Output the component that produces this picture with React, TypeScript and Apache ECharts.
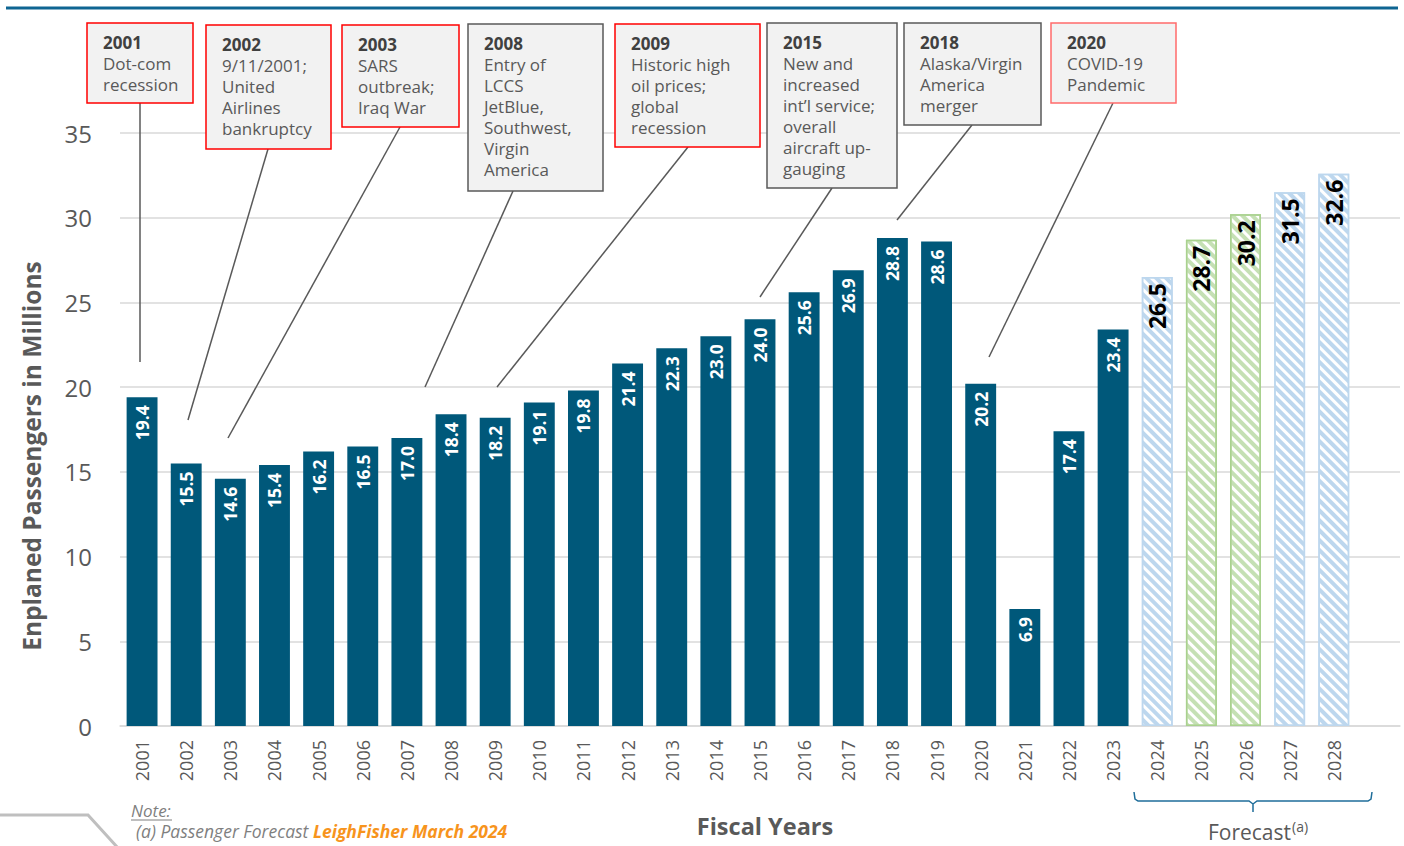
import React, { useEffect, useRef } from "react";
import * as echarts from "echarts";

// ---------- DATA ----------
const years = [
  "2001", "2002", "2003", "2004", "2005", "2006", "2007", "2008", "2009", "2010",
  "2011", "2012", "2013", "2014", "2015", "2016", "2017", "2018", "2019", "2020",
  "2021", "2022", "2023", "2024", "2025", "2026", "2027", "2028",
];
const passengers = [
  19.4, 15.5, 14.6, 15.4, 16.2, 16.5, 17.0, 18.4, 18.2, 19.1,
  19.8, 21.4, 22.3, 23.0, 24.0, 25.6, 26.9, 28.8, 28.6, 20.2,
  6.9, 17.4, 23.4, 26.5, 28.7, 30.2, 31.5, 32.6,
];
const forecastYears = ["2024", "2025", "2026", "2027", "2028"];
const greenForecastYears = ["2025", "2026"];
const yMin = 0;
const yMax = 35;
const yInterval = 5;

const eventYears = ["2001", "2002", "2003", "2008", "2009", "2015", "2018", "2020"];
const eventTexts = [
  ["Dot-com", "recession"],
  ["9/11/2001;", "United", "Airlines", "bankruptcy"],
  ["SARS", "outbreak;", "Iraq War"],
  ["Entry of", "LCCS", "JetBlue,", "Southwest,", "Virgin", "America"],
  ["Historic high", "oil prices;", "global", "recession"],
  ["New and", "increased", "int\u2019l service;", "overall", "aircraft up-", "gauging"],
  ["Alaska/Virgin", "America", "merger"],
  ["COVID-19", "Pandemic"],
];
const noteLabel = "Note:";
const noteText = "(a) Passenger Forecast ";
const noteSource = "LeighFisher March 2024";

// ---------- LAYOUT (positions / styles) ----------
// box: [x, y, w, h], border colour, leader [x1, y1, x2, y2]
const eventLayout = [
  { box: [87, 23, 106, 80], border: "#ff0000", leader: [140, 103, 140, 362] },
  { box: [206, 25, 125, 124], border: "#ff0000", leader: [268, 149, 188, 420] },
  { box: [342, 25, 117, 102], border: "#ff0000", leader: [400, 127, 228, 438] },
  { box: [468, 24, 135, 167], border: "#595959", leader: [513, 191, 425, 387] },
  { box: [615, 24, 145, 123], border: "#ff0000", leader: [688, 147, 497, 387] },
  { box: [767, 23, 130, 165], border: "#595959", leader: [832, 188, 760, 297] },
  { box: [904, 23, 137, 102], border: "#595959", leader: [972, 125, 897, 220] },
  { box: [1051, 23, 125, 80], border: "#ff6b6b", leader: [1113, 103, 989, 357] },
];

const FONT = "'Open Sans', 'Noto Sans', sans-serif";
const BAR = "#00587a";

export default function App() {
  const ref = useRef<HTMLDivElement>(null);

  useEffect(() => {
    document.body.style.margin = "0";
    if (!ref.current) return;
    const chart = echarts.init(ref.current, undefined, { renderer: "svg" });

    const stripe = (c: string) => ({
      symbol: "rect",
      symbolSize: 1,
      dashArrayX: [1, 0],
      dashArrayY: [3.5, 3],
      rotation: Math.PI / 4,
      color: c,
      backgroundColor: "#ffffff",
    });

    const seriesData = passengers.map((v, i) => {
      const y = years[i];
      const isF = forecastYears.includes(y);
      const isG = greenForecastYears.includes(y);
      if (!isF) {
        return { value: v, itemStyle: { color: BAR } };
      }
      const stroke = isG ? "#a9d18e" : "#bdd7ee";
      const fill = isG ? "#c5e0b4" : "#bdd7ee";
      return {
        value: v,
        itemStyle: {
          color: "#ffffff",
          borderColor: stroke,
          borderWidth: 1.5,
          decal: stripe(fill),
        },
        label: { color: "#000000", fontSize: 23, distance: 6 },
      };
    });

    const graphics: any[] = [];
    // top rule
    graphics.push({
      type: "line",
      shape: { x1: 6, y1: 8, x2: 1398, y2: 8 },
      style: { stroke: "#0e6592", lineWidth: 3 },
    });
    // bottom-left decoration
    graphics.push({
      type: "polyline",
      shape: { points: [[0, 815], [88, 815], [118, 848]] },
      style: { stroke: "#bfbfbf", lineWidth: 3, fill: null },
    });

    eventYears.forEach((yr, i) => {
      const L = eventLayout[i];
      const [bx, by, bw, bh] = L.box;
      const [x1, y1, x2, y2] = L.leader;
      graphics.push({
        type: "line",
        shape: { x1, y1, x2, y2 },
        style: { stroke: "#595959", lineWidth: 1.5 },
        z: 5,
      });
      graphics.push({
        type: "rect",
        shape: { x: bx, y: by, width: bw, height: bh },
        style: { fill: "#f2f2f2", stroke: L.border, lineWidth: 1.5 },
        z: 6,
      });
      const rich = "{y|" + yr + "}\n" + eventTexts[i].map((t) => "{b|" + t + "}").join("\n");
      graphics.push({
        type: "text",
        x: bx + 16,
        y: by + 9,
        z: 7,
        style: {
          text: rich,
          fontFamily: FONT,
          fontSize: 17,
          lineHeight: 21,
          fill: "#595959",
          align: "left",
          verticalAlign: "top",
          rich: {
            y: { fontWeight: "bold", fontSize: 17, lineHeight: 21, fill: "#404040", fontFamily: FONT },
            b: { fontSize: 17, lineHeight: 21, fill: "#595959", fontFamily: FONT },
          },
        },
      });
    });

    // axis titles
    graphics.push({
      type: "text",
      x: 31,
      y: 456,
      rotation: Math.PI / 2,
      style: {
        text: "Enplaned Passengers in Millions",
        fontFamily: FONT,
        fontSize: 24.5,
        fontWeight: "bold",
        fill: "#595959",
        align: "center",
        verticalAlign: "middle",
      },
    });
    graphics.push({
      type: "text",
      x: 765,
      y: 826,
      style: {
        text: "Fiscal Years",
        fontFamily: FONT,
        fontSize: 23.5,
        fontWeight: "bold",
        fill: "#595959",
        align: "center",
        verticalAlign: "middle",
      },
    });

    // forecast bracket
    graphics.push({
      type: "polyline",
      shape: {
        points: [
          [1134, 792], [1135, 799], [1138, 801], [1249, 801], [1253, 804],
          [1253, 812], [1253, 804], [1257, 801], [1368, 801], [1371, 799], [1372, 792],
        ],
      },
      style: { stroke: "#1f6e9a", lineWidth: 1.5, fill: null },
    });
    graphics.push({
      type: "text",
      x: 1291,
      y: 832,
      style: {
        text: "Forecast",
        fontFamily: FONT,
        fontSize: 21,
        lineHeight: 22,
        fill: "#595959",
        align: "right",
        verticalAlign: "middle",
      },
    });
    graphics.push({
      type: "text",
      x: 1292,
      y: 826,
      style: {
        text: "(a)",
        fontFamily: FONT,
        fontSize: 14,
        fill: "#595959",
        align: "left",
        verticalAlign: "middle",
      },
    });

    // note
    graphics.push({
      type: "text",
      x: 131,
      y: 810,
      style: {
        text: noteLabel,
        fontFamily: FONT,
        fontSize: 17,
        fontStyle: "italic",
        fill: "#7f7f7f",
        align: "left",
        verticalAlign: "middle",
      },
    });
    graphics.push({
      type: "line",
      shape: { x1: 131, y1: 820, x2: 172, y2: 820 },
      style: { stroke: "#7f7f7f", lineWidth: 1 },
    });
    graphics.push({
      type: "text",
      x: 136,
      y: 831,
      style: {
        text: "{a|" + noteText + "}{b|" + noteSource + "}",
        fontFamily: FONT,
        fontSize: 17.5,
        align: "left",
        verticalAlign: "middle",
        rich: {
          a: { fontFamily: FONT, fontSize: 17.5, fontStyle: "italic", fill: "#7f7f7f" },
          b: { fontFamily: FONT, fontSize: 17.5, fontStyle: "italic", fontWeight: "bold", fill: "#f7941d" },
        },
      },
    });

    chart.setOption({
      animation: false,
      textStyle: { fontFamily: FONT },
      grid: { left: 120, right: 4, top: 133, bottom: 120, containLabel: false },
      xAxis: {
        type: "category",
        data: [...years, ""],
        axisLine: { lineStyle: { color: "#d9d9d9", width: 1.5 } },
        axisTick: { show: false },
        axisLabel: {
          rotate: 90,
          fontSize: 18,
          color: "#595959",
          margin: 14,
          interval: 0,
          fontFamily: FONT,
        },
      },
      yAxis: {
        type: "value",
        min: yMin,
        max: yMax,
        interval: yInterval,
        axisLine: { show: false },
        axisTick: { show: false },
        splitLine: { lineStyle: { color: "#d9d9d9", width: 1.5 } },
        axisLabel: { fontSize: 24, color: "#595959", margin: 28, fontFamily: FONT },
      },
      series: [
        {
          type: "bar",
          data: seriesData,
          barWidth: "70%",
          label: {
            show: true,
            position: "insideTop",
            rotate: 90,
            align: "right",
            verticalAlign: "middle",
            distance: 8,
            color: "#ffffff",
            fontWeight: "bold",
            fontSize: 17.5,
            fontFamily: FONT,
            formatter: (p: any) => Number(p.value).toFixed(1),
          },
        },
      ],
      graphic: graphics,
    });

    return () => chart.dispose();
  }, []);

  return (
    <div
      ref={ref}
      style={{ position: "absolute", left: 0, top: 0, width: 1404, height: 846 }}
    />
  );
}
